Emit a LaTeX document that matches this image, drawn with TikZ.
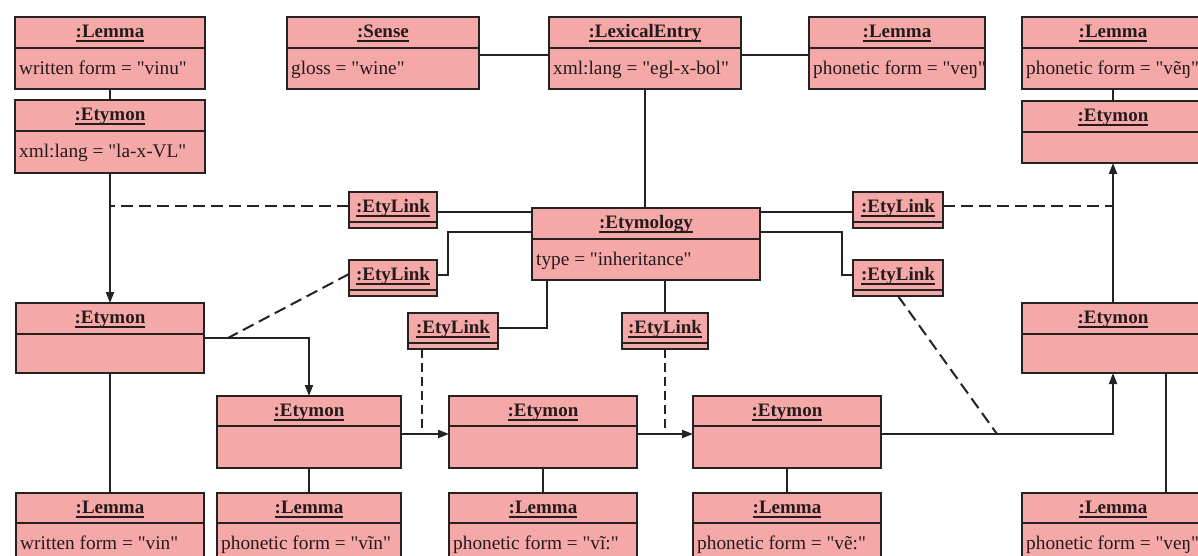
\documentclass[tikz,border=0pt]{standalone}
\usepackage{fontspec}
\setmainfont{Liberation Serif}[Ligatures=TeXOff]
\usetikzlibrary{arrows.meta,calc}
\definecolor{boxfill}{RGB}{245,168,168}
\definecolor{boxline}{RGB}{38,34,34}
\definecolor{txt}{RGB}{38,26,26}
\newcommand\ulbf[1]{\setbox0\hbox{\bfseries #1}\rlap{\rule[-4.5pt]{\wd0}{1.8pt}}\box0}
\tikzset{
  objbox/.style={draw=boxline, fill=boxfill, line width=2.3pt, inner sep=0pt, outer sep=0pt, rectangle},
  divline/.style={draw=boxline, line width=2pt},
  titletxt/.style={anchor=base, inner sep=0pt, text=txt, font=\fontsize{19}{21}\selectfont},
  attrtxt/.style={anchor=base west, inner sep=0pt, text=txt, font=\fontsize{19.3}{21}\selectfont},
  conn/.style={draw=boxline, line width=2pt},
  dashedc/.style={draw=boxline, line width=2pt, dash pattern=on 12pt off 6pt},
  arr/.style={-{Triangle[length=11pt,width=8pt]}}
}
% name x1 y1 x2 y2 ydiv title attr
\newcommand\uobj[8]{%
  \node[objbox, minimum width={#4-#2}, minimum height={#5-#3}] (#1) at ({(#2+#4)/2},{(#3+#5)/2}) {};
  \draw[divline] (#2,#6) -- (#4,#6);
  \node[titletxt] at ({(#2+#4)/2},{(#3+#6)/2+5}) {\ulbf{#7}};
  \node[attrtxt] at (#2+4,#6+26.5) {#8};
}
% name x1 y1 x2 y2
\newcommand\elink[5]{%
  \node[objbox, minimum width={#4-#2}, minimum height={#5-#3}] (#1) at ({(#2+#4)/2},{(#3+#5)/2}) {};
  \draw[divline] (#2,#5-6) -- (#4,#5-6);
  \node[titletxt] at ({(#2+#4)/2},{(#3+#5-6)/2+5}) {\ulbf{:EtyLink}};
}
\begin{document}
\begin{tikzpicture}[x=1pt,y=-1pt]
\useasboundingbox (0,0) rectangle (1198,556);
\clip (0,0) rectangle (1198,556);
\fill[white] (0,0) rectangle (1198,556);

% boxes
\uobj{lem1}{15}{17}{205}{89}{48}{:Lemma}{written form = "vinu"}
\uobj{ety1}{15}{100}{205}{173}{131}{:Etymon}{xml:lang = "la-x-VL"}
\uobj{sense}{287}{17}{479}{89}{48}{:Sense}{gloss = "wine"}
\uobj{lex}{549}{17}{741}{89}{48}{:LexicalEntry}{xml:lang = "egl-x-bol"}
\uobj{lemt}{809}{17}{985}{89}{48}{:Lemma}{phonetic form = "veŋ"}
\uobj{lemtr}{1022}{17}{1204}{89}{48}{:Lemma}{phonetic form = "vẽŋ"}
\uobj{etytr}{1022}{101}{1204}{163}{132}{:Etymon}{}
\uobj{etym}{532}{208}{760}{280}{239}{:Etymology}{type = "inheritance"}
\uobj{etl}{16}{303}{204}{373}{334}{:Etymon}{}
\uobj{etr}{1022}{303}{1204}{373}{334}{:Etymon}{}
\uobj{m1}{217}{396}{401}{468}{426}{:Etymon}{}
\uobj{m2}{449}{396}{637}{468}{426}{:Etymon}{}
\uobj{m3}{693}{396}{881}{468}{426}{:Etymon}{}
\uobj{lb1}{16}{493}{204}{600}{523}{:Lemma}{written form = "vin"}
\uobj{lb2}{217}{493}{401}{600}{523}{:Lemma}{phonetic form = "vĩn"}
\uobj{lb3}{449}{493}{637}{600}{523}{:Lemma}{phonetic form = "vĩ:"}
\uobj{lb4}{693}{493}{881}{600}{523}{:Lemma}{phonetic form = "vẽ:"}
\uobj{lb5}{1022}{493}{1204}{600}{523}{:Lemma}{phonetic form = "veŋ"}

\elink{elk1}{349}{192}{437}{228}
\elink{elk2}{349}{260}{437}{296}
\elink{elk3}{408}{313}{498}{349}
\elink{elk4}{622}{313}{708}{349}
\elink{elk5}{853}{192}{943}{228}
\elink{elk6}{853}{260}{943}{296}

% solid connectors
\draw[conn] (lem1.south) -- (ety1.north);
\draw[conn] (lemtr.south) -- (etytr.north);
\draw[conn] ([yshift=-2pt]sense.east) -- ([yshift=-2pt]lex.west);
\draw[conn] ([yshift=-2pt]lex.east) -- ([yshift=-2pt]lemt.west);
\draw[conn] (lex.south) -- (lex.south |- etym.north);
\draw[conn, arr] (ety1.south) -- (etl.north);
\draw[conn, arr] (etl.east) -| (m1.north);
\draw[conn, arr] ([yshift=-2pt]m1.east) -- ([yshift=-2pt]m2.west);
\draw[conn, arr] ([yshift=-2pt]m2.east) -- ([yshift=-2pt]m3.west);
\draw[conn, arr] ([yshift=-2pt]m3.east) -| (etr.south);
\draw[conn, arr] (etr.north) -- (etytr.south);
\draw[conn] (etl.south) -- (lb1.north);
\draw[conn] (m1.south) -- (lb2.north);
\draw[conn] (m2.south) -- (lb3.north);
\draw[conn] (m3.south) -- (lb4.north);
\draw[conn] ([xshift=53pt]etr.south) -- ([xshift=53pt]lb5.north);

% etymology to etylinks
\draw[conn] ([yshift=-2pt]elk1.east) -- ([yshift=-2pt]elk1.east -| etym.west);
\draw[conn] ([yshift=3pt]elk2.east) -- ++(11,0) |- (etym.west |- 0,232);
\draw[conn] ([yshift=3pt]elk3.east) -| ([xshift=-99pt]etym.south);
\draw[conn] (elk4.north) -- (elk4.north |- etym.south);
\draw[conn] ([yshift=-2pt]etym.east |- elk5.west) -- ([yshift=-2pt]elk5.west);
\draw[conn] (etym.east |- 0,232) -- ++(82,0) |- ([yshift=3pt]elk6.west);

% dashed links
\coordinate (e1) at ([yshift=4pt]elk1.west);
\draw[dashedc] (e1) -- (e1 -| ety1.south);
\coordinate (e5) at ([yshift=4pt]elk5.east);
\draw[dashedc] (e5) -- (e5 -| etr.north);
\coordinate (dp2) at ($(etl.east)+(24,0)$);
\draw[dashedc] ([yshift=4pt]elk2.west) -- (dp2);
\draw[dashedc, dash pattern=on 9pt off 5pt] ([xshift=-31pt]elk3.south) -- ([xshift=-31pt,yshift=-2pt]elk3.south |- m1.east);
\draw[dashedc, dash pattern=on 9pt off 5pt] (elk4.south) -- ([yshift=-2pt]elk4.south |- m2.east);
\coordinate (dp6) at ($(m3.east)+(116,2)$);
\draw[dashedc] (elk6.south) -- (dp6);
\end{tikzpicture}
\end{document}
